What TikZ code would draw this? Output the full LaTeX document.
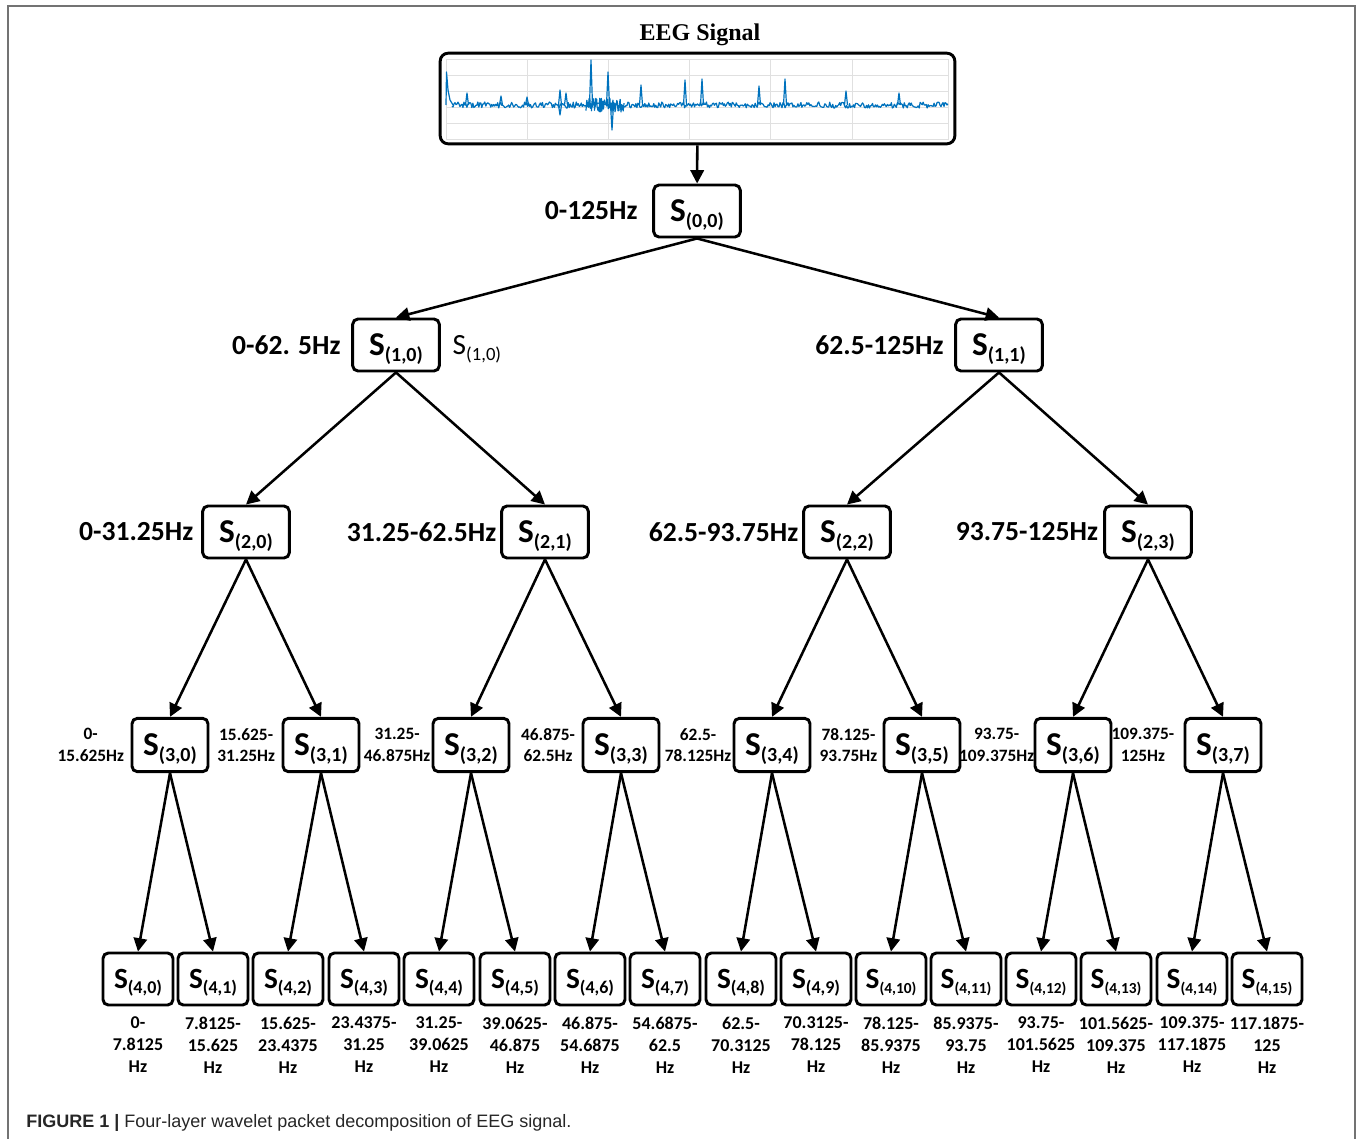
\documentclass[tikz,border=0pt]{standalone}
\usepackage{fontspec}
\setsansfont{Carlito}
\newfontfamily\titlefont{Liberation Serif}
\newfontfamily\capfont{Liberation Sans}
\usetikzlibrary{arrows.meta,positioning}

\newcommand{\wps}[1]{S\raisebox{-4.5pt}[0pt][0pt]{\fontsize{15}{15}\selectfont(#1)}}
\newcommand{\wpt}[1]{S\raisebox{-4pt}[0pt][0pt]{\fontsize{13.5}{13.5}\selectfont(#1)}}
\newcommand{\wpu}[1]{S\raisebox{-4pt}[0pt][0pt]{\fontsize{11.5}{11.5}\selectfont(#1)}}

\tikzset{
  band/.style={draw, rounded corners=4pt, line width=2.2pt, minimum width=65pt, minimum height=39pt, inner sep=0pt, font=\sffamily\bfseries\fontsize{25}{25}\selectfont},
  bandsm/.style={band, minimum width=57pt, minimum height=40pt},
  leaf/.style={band, minimum width=52.5pt, minimum height=39pt, font=\sffamily\bfseries\fontsize{22}{22}\selectfont},
  freq/.style={inner sep=0pt, font=\sffamily\bfseries\fontsize{20.7}{20.7}\selectfont},
  freqsm/.style={inner sep=0pt, align=center, font=\sffamily\bfseries\fontsize{13}{16}\selectfont},
  freqlf/.style={freqsm, font=\sffamily\bfseries\fontsize{13.5}{16.5}\selectfont},
  sig/.style={-, draw={rgb,255:red,0;green,114;blue,189}, line width=0.9pt, line join=round},
  plotgrid/.style={-, draw=black!12, line width=0.4pt}
}

\begin{document}
\begin{tikzpicture}[->,>={Triangle[length=10pt,width=10pt]},line width=1.9pt,x=0.75pt,y=-0.75pt]
\useasboundingbox (0,0) rectangle (1357,1139);

% outer frame
\draw[-,line width=1.5pt,black!55] (8,1139) -- (8,6) -- (1355,6) -- (1355,1139);

% signal
\node[font=\titlefont\bfseries\fontsize{18}{18}\selectfont] (title) at (700,35) {EEG Signal};
\node[draw, rounded corners=6pt, line width=2.2pt, minimum width=386pt, minimum height=68pt] (eeg) at (697.5,98.5) {};
\draw[plotgrid] (446,59) rectangle (948,139);
\foreach \gx in {527,608,689,770,852}
  \draw[plotgrid] (\gx,59) -- (\gx,139);
\foreach \gy in {75,91,107,123}
  \draw[plotgrid] (446,\gy) -- (948,\gy);
\pgfmathsetseed{3}
\draw[sig] plot[domain=452:948,samples=500] (\x,{105+3*rand});
\draw[sig] plot[domain=586:624,samples=90] (\x,{105+7*rand});
\draw[sig] (446,105) -- (446.5,72) -- (448,90) -- (450,100) -- (453,105);
\foreach \sx/\sy in {467/93, 501/96, 527/97, 560/90, 566/93, 591/60, 608/72, 641/85, 685/80, 702/79, 759/86, 785/79, 846/91, 899/93, 560/115, 612/130}
  \draw[sig] (\sx-1.5,105) -- (\sx,\sy) -- (\sx+1.5,105);

% level 0 to 2
\node[band] (s00) at (697,211) {\wps{0,0}};
\node[band] (s10) at (396,345) {\wps{1,0}};
\node[band] (s11) at (999,345) {\wps{1,1}};
\node[band] (s20) at (246,532) {\wps{2,0}};
\node[band] (s21) at (545,532) {\wps{2,1}};
\node[band] (s22) at (847,532) {\wps{2,2}};
\node[band] (s23) at (1148,532) {\wps{2,3}};

\node[freq, left=10pt of s00] (l00) {0-125Hz};
\node[freq, left=7pt of s10] (l10) {0-62. 5Hz};
\node[inner sep=0pt, right=8pt of s10, font=\sffamily\fontsize{22}{22}\selectfont] (x10) {S\raisebox{-4.5pt}[0pt][0pt]{\fontsize{14}{14}\selectfont(1,0)}};
\node[freq, left=7pt of s11] (l11) {62.5-125Hz};
\node[freq, left=5pt of s20] (l20) {0-31.25Hz};
\node[freq, left=2pt of s21] (l21) {31.25-62.5Hz};
\node[freq, left=2pt of s22] (l22) {62.5-93.75Hz};
\node[freq, left=3pt of s23] (l23) {93.75-125Hz};

% level 3
\node[bandsm] (s30) at (170,745) {\wps{3,0}};
\node[bandsm] (s31) at (321,745) {\wps{3,1}};
\node[bandsm] (s32) at (471,745) {\wps{3,2}};
\node[bandsm] (s33) at (621,745) {\wps{3,3}};
\node[bandsm] (s34) at (772,745) {\wps{3,4}};
\node[bandsm] (s35) at (922,745) {\wps{3,5}};
\node[bandsm] (s36) at (1073,745) {\wps{3,6}};
\node[bandsm] (s37) at (1223,745) {\wps{3,7}};

\node[freqsm, left=4pt of s30] (l30) {0-\\15.625Hz};
\node[freqsm, left=4pt of s31] (l31) {15.625-\\31.25Hz};
\node[freqsm, left=0pt of s32] (l32) {31.25-\\46.875Hz};
\node[freqsm, left=4pt of s33] (l33) {46.875-\\62.5Hz};
\node[freqsm, left=0pt of s34] (l34) {62.5-\\78.125Hz};
\node[freqsm, left=3pt of s35] (l35) {78.125-\\93.75Hz};
\node[freqsm, left=-1.5pt of s36] (l36) {93.75-\\109.375Hz};
\node[freqsm, left=6pt of s37] (l37) {109.375-\\125Hz};

% level 4
\node[leaf] (s40) at (138,979) {\wpt{4,0}};
\node[leaf] (s41) at (213,979) {\wpt{4,1}};
\node[leaf] (s42) at (288,979) {\wpt{4,2}};
\node[leaf] (s43) at (364,979) {\wpt{4,3}};
\node[leaf] (s44) at (439,979) {\wpt{4,4}};
\node[leaf] (s45) at (515,979) {\wpt{4,5}};
\node[leaf] (s46) at (590,979) {\wpt{4,6}};
\node[leaf] (s47) at (665,979) {\wpt{4,7}};
\node[leaf] (s48) at (741,979) {\wpt{4,8}};
\node[leaf] (s49) at (816,979) {\wpt{4,9}};
\node[leaf] (s410) at (891,979) {\wpu{4,10}};
\node[leaf] (s411) at (966,979) {\wpu{4,11}};
\node[leaf] (s412) at (1041,979) {\wpu{4,12}};
\node[leaf] (s413) at (1116,979) {\wpu{4,13}};
\node[leaf] (s414) at (1192,979) {\wpu{4,14}};
\node[leaf] (s415) at (1267,979) {\wpu{4,15}};

\node[freqlf, below=7pt of s40] (l40) {0-\\7.8125\\Hz};
\node[freqlf, below=7pt of s41] (l41) {7.8125-\\15.625\\Hz};
\node[freqlf, below=7pt of s42] (l42) {15.625-\\23.4375\\Hz};
\node[freqlf, below=7pt of s43] (l43) {23.4375-\\31.25\\Hz};
\node[freqlf, below=7pt of s44] (l44) {31.25-\\39.0625\\Hz};
\node[freqlf, below=7pt of s45] (l45) {39.0625-\\46.875\\Hz};
\node[freqlf, below=7pt of s46] (l46) {46.875-\\54.6875\\Hz};
\node[freqlf, below=7pt of s47] (l47) {54.6875-\\62.5\\Hz};
\node[freqlf, below=7pt of s48] (l48) {62.5-\\70.3125\\Hz};
\node[freqlf, below=7pt of s49] (l49) {70.3125-\\78.125\\Hz};
\node[freqlf, below=7pt of s410] (l410) {78.125-\\85.9375\\Hz};
\node[freqlf, below=7pt of s411] (l411) {85.9375-\\93.75\\Hz};
\node[freqlf, below=7pt of s412] (l412) {93.75-\\101.5625\\Hz};
\node[freqlf, below=7pt of s413] (l413) {101.5625-\\109.375\\Hz};
\node[freqlf, below=7pt of s414] (l414) {109.375-\\117.1875\\Hz};
\node[freqlf, below=7pt of s415] (l415) {117.1875-\\125\\Hz};

% decomposition edges
\path (eeg) edge (s00)
      (s00.south) edge (s10.north)
      (s00.south) edge (s11.north)
      (s10.south) edge (s20.north)
      (s10.south) edge (s21.north)
      (s11.south) edge (s22.north)
      (s11.south) edge (s23.north)
      (s20.south) edge (s30.north)
      (s20.south) edge (s31.north)
      (s21.south) edge (s32.north)
      (s21.south) edge (s33.north)
      (s22.south) edge (s34.north)
      (s22.south) edge (s35.north)
      (s23.south) edge (s36.north)
      (s23.south) edge (s37.north)
      (s30.south) edge (s40.north)
      (s30.south) edge (s41.north)
      (s31.south) edge (s42.north)
      (s31.south) edge (s43.north)
      (s32.south) edge (s44.north)
      (s32.south) edge (s45.north)
      (s33.south) edge (s46.north)
      (s33.south) edge (s47.north)
      (s34.south) edge (s48.north)
      (s34.south) edge (s49.north)
      (s35.south) edge (s410.north)
      (s35.south) edge (s411.north)
      (s36.south) edge (s412.north)
      (s36.south) edge (s413.north)
      (s37.south) edge (s414.north)
      (s37.south) edge (s415.north);

\node[anchor=base west, inner sep=0pt, text=black!85, font=\capfont\fontsize{13.5}{13.5}\selectfont] (cap) at (25,1127) {\textbf{FIGURE 1 |} Four-layer wavelet packet decomposition of EEG signal.};

\end{tikzpicture}
\end{document}
